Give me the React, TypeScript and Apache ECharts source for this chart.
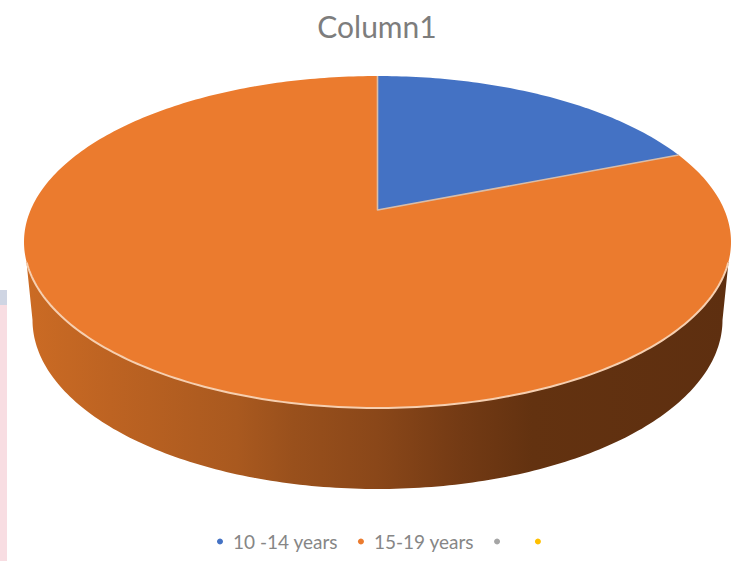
import React, { useEffect, useRef } from "react";
import * as echarts from "echarts";

const categories = ["10 -14 years", "15-19 years", "\u00a0", "\u00a0\u00a0"];
const shares = [19, 81, 0, 0];
const palette = ["#4472c4", "#eb7b2e", "#a5a5a5", "#ffc000"];
const wallStops = [
  [0, "#cb6b24"],
  [0.12, "#bd6322"],
  [0.3, "#a9591f"],
  [0.38, "#99501c"],
  [0.5, "#8a4719"],
  [0.62, "#733a14"],
  [0.72, "#633210"],
  [1, "#5e2f10"],
];

// Tilted disc: top face projected with perspective, so the hub sits above the ellipse centre.
const topFace = { cx: 377.5, top: 76, hub: 210, bottom: 408, halfWidth: 353.5 };
const baseRim = { cx: 377.5, cy: 320, rx: 345, ry: 169 };

const persp = (topFace.top + topFace.bottom - 2 * topFace.hub) / (topFace.bottom - topFace.top);
const slope = topFace.top * (1 + persp) - topFace.hub;
const spread = topFace.halfWidth * Math.sqrt(1 - persp * persp);

// Maps a clockwise angle from twelve o'clock onto the rim of the top face.
const rimPoint = (angle: number) => {
  const s = Math.sin(angle);
  const c = Math.cos(angle);
  const w = 1 + persp * c;
  return [topFace.cx + (spread * s) / w, (topFace.hub + slope * c) / w];
};

const sweep = (from: number, to: number) => {
  const steps = Math.max(2, Math.ceil(Math.abs(to - from) * 60));
  const pts: number[][] = [];
  for (let i = 0; i <= steps; i++) pts.push(rimPoint(from + ((to - from) * i) / steps));
  return pts;
};

const total = shares.reduce((a, b) => a + b, 0);
const startOf = (index: number) =>
  (shares.slice(0, index).reduce((a, b) => a + b, 0) / total) * Math.PI * 2;

const wallPoints = () => {
  const pts: number[][] = [[topFace.cx - topFace.halfWidth + 2.5, 262]];
  for (let i = 0; i <= 180; i++) {
    const a = Math.PI - (Math.PI * i) / 180;
    pts.push([baseRim.cx + baseRim.rx * Math.cos(a), baseRim.cy + baseRim.ry * Math.sin(a)]);
  }
  pts.push([topFace.cx + topFace.halfWidth - 2.5, 262]);
  return pts;
};

const sliceSeries = categories.map((name, index) => ({
  type: "custom",
  name,
  coordinateSystem: "none",
  silent: true,
  itemStyle: { color: palette[index] },
  data: [shares[index]],
  z: index === 1 ? 2 : 3,
  renderItem: () => {
    if (!shares[index]) return { type: "group", children: [] };
    const start = startOf(index);
    const end = start + (shares[index] / total) * Math.PI * 2;
    const hub = [topFace.cx, topFace.hub];
    const wedge = {
      type: "polygon",
      shape: { points: [hub, ...sweep(start, end)] },
      style: { fill: palette[index] },
    };
    if (index !== 1) {
      // Pale seams along both straight edges of the slice.
      return {
        type: "group",
        children: [
          wedge,
          {
            type: "polyline",
            shape: { points: [rimPoint(start), hub, rimPoint(end)] },
            style: { fill: "none", stroke: "#d9bda8", lineWidth: 1.6, lineJoin: "round" },
          },
        ],
      };
    }
    return {
      type: "group",
      children: [
        {
          type: "polygon",
          shape: { points: wallPoints() },
          style: {
            fill: new echarts.graphic.LinearGradient(
              0,
              0,
              1,
              0,
              wallStops.map(([offset, color]) => ({ offset, color })) as any
            ),
          },
        },
        wedge,
        {
          // Light catches only the front lip of the disc.
          type: "polyline",
          shape: { points: sweep(Math.PI * 0.6, Math.PI * 1.4) },
          style: { fill: "none", stroke: "#f6cfb0", lineWidth: 2 },
        },
      ],
    };
  },
}));

export default function App() {
  const ref = useRef<HTMLDivElement>(null);
  useEffect(() => {
    const chart = echarts.init(ref.current!, null, { renderer: "svg" });
    chart.setOption({
      animation: false,
      backgroundColor: "#ffffff",
      title: {
        text: "Column1",
        left: 372,
        top: 6,
        textAlign: "center",
        textStyle: { fontFamily: "Lato", fontSize: 30, fontWeight: 400, color: "#7d7d7d" },
      },
      legend: {
        data: categories.map((name) => ({ name, icon: "circle" })),
        left: 212,
        top: 527,
        itemWidth: 6,
        itemHeight: 6,
        itemGap: 20,
        textStyle: { fontFamily: "Lato", fontSize: 19, color: "#868686", padding: [0, 0, 0, 5] },
        selectedMode: false,
      },
      graphic: [
        { type: "rect", shape: { x: 0, y: 290, width: 7, height: 15 }, style: { fill: "#cfd5e3" } },
        { type: "rect", shape: { x: 0, y: 305, width: 7, height: 256 }, style: { fill: "#f8dde2" } },
      ],
      series: sliceSeries,
    });
    return () => chart.dispose();
  }, []);
  return (
    <div
      ref={ref}
      style={{ position: "absolute", left: 0, top: 0, width: 754, height: 561 }}
    />
  );
}
